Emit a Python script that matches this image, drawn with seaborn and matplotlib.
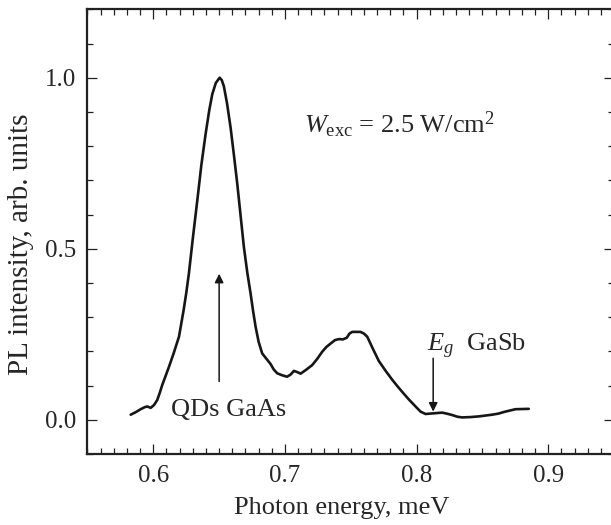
import numpy as np
import pandas as pd
import matplotlib
matplotlib.use('Agg')
import matplotlib.pyplot as plt
from matplotlib.ticker import MultipleLocator
import seaborn as sns

# photon energy and normalised PL intensity
energie = [0.5828, 0.5865, 0.5904, 0.5935, 0.5954, 0.5980, 0.6005, 0.6030,
           0.6050, 0.6068, 0.6095, 0.6119, 0.6155, 0.6195, 0.6230, 0.6250,
           0.6270, 0.6300, 0.6334, 0.6365, 0.6397, 0.6425, 0.6448, 0.6475,
           0.6504, 0.6520, 0.6536, 0.6560, 0.6587, 0.6612, 0.6638, 0.6663,
           0.6688, 0.6714, 0.6739, 0.6758, 0.6777, 0.6800, 0.6827, 0.6860,
           0.6891, 0.6915, 0.6941, 0.6980, 0.7017, 0.7045, 0.7068, 0.7090,
           0.7119, 0.7160, 0.7207, 0.7245, 0.7283, 0.7315, 0.7347, 0.7380,
           0.7410, 0.7440, 0.7470, 0.7490, 0.7511, 0.7574, 0.7600, 0.7625,
           0.7665, 0.7713, 0.7765, 0.7815, 0.7855, 0.7890, 0.7940, 0.7992,
           0.8030, 0.8068, 0.8130, 0.8194, 0.8230, 0.8270, 0.8310, 0.8346,
           0.8410, 0.8473, 0.8574, 0.8620, 0.8675, 0.8751, 0.8852]
intensitaet = [0.015, 0.022, 0.031, 0.037, 0.039, 0.035, 0.043, 0.058,
               0.080, 0.102, 0.130, 0.155, 0.195, 0.243, 0.320, 0.370,
               0.427, 0.530, 0.641, 0.745, 0.835, 0.905, 0.952, 0.985,
               1.000, 0.993, 0.975, 0.925, 0.854, 0.775, 0.689, 0.597,
               0.505, 0.430, 0.369, 0.318, 0.272, 0.228, 0.194, 0.178,
               0.163, 0.147, 0.136, 0.130, 0.126, 0.133, 0.143, 0.140,
               0.135, 0.146, 0.160, 0.178, 0.199, 0.213, 0.223, 0.233,
               0.236, 0.235, 0.240, 0.252, 0.257, 0.257, 0.252, 0.243,
               0.210, 0.172, 0.143, 0.117, 0.098, 0.082, 0.060, 0.039,
               0.024, 0.017, 0.019, 0.021, 0.018, 0.014, 0.009, 0.007,
               0.008, 0.010, 0.015, 0.018, 0.024, 0.031, 0.032]

x_ticks = [0.6, 0.7, 0.8, 0.9]
y_ticks = [0.0, 0.5, 1.0]
y_ticklabels = ['0.0', '0.5', '1.0']

sns.set_style('ticks')
plt.rcParams['font.family'] = ['Liberation Serif', 'DejaVu Serif']
plt.rcParams['mathtext.fontset'] = 'custom'
plt.rcParams['mathtext.rm'] = 'Liberation Serif'
plt.rcParams['mathtext.it'] = 'Liberation Serif:italic'

df = pd.DataFrame({'E': energie, 'I': intensitaet})

fig = plt.figure(figsize=(6.11, 5.25), dpi=100)
ax = fig.add_axes([0.1432, 0.1352, 1.005 - 0.1432, 0.9823 - 0.1352])

sns.lineplot(data=df, x='E', y='I', ax=ax, color='#161616', linewidth=1.9,
             sort=False, estimator=None, solid_joinstyle='round',
             solid_capstyle='round')

ax.set_xlim(0.55, 0.95)
ax.set_ylim(-0.1, 1.2)
ax.set_xticks(x_ticks)
ax.set_xticklabels([f'{t:.1f}' for t in x_ticks])
ax.set_yticks(y_ticks)
ax.set_yticklabels(y_ticklabels)
ax.xaxis.set_minor_locator(MultipleLocator(0.01))
ax.yaxis.set_minor_locator(MultipleLocator(0.1))
ax.tick_params(which='both', direction='in', top=True, right=True,
               width=0.9, color='#222222', labelsize=18, pad=8)
ax.tick_params(which='major', length=7)
ax.tick_params(which='minor', length=4)
for s in ax.spines.values():
    s.set_linewidth(1.6)
    s.set_color('#222222')

ax.set_xlabel('Photon energy, meV', fontsize=19)
ax.set_ylabel('PL intensity, arb. units', fontsize=21)
ax.xaxis.set_label_coords(0.483, -0.097)
ax.yaxis.set_label_coords(-0.102, 0.472)

ax.text(0.7144, 0.838, r'$W_{\rm exc}$ = 2.5 W/cm$^2$', fontsize=19,
        ha='left', va='baseline')
ax.text(0.6574, 0.012, 'QDs GaAs', fontsize=19, ha='center', va='baseline')
ax.text(0.8078, 0.199, r'$E_g$  GaSb', fontsize=19, ha='left', va='baseline')

pfeil = dict(arrowstyle='-|>', color='#161616', lw=1.1, mutation_scale=13,
             shrinkA=0, shrinkB=0)
ax.annotate('', xy=(0.65, 0.427), xytext=(0.65, 0.112), arrowprops=pfeil)
ax.annotate('', xy=(0.8126, 0.024), xytext=(0.8126, 0.18), arrowprops=pfeil)

fig.savefig('out.png', dpi=100)
